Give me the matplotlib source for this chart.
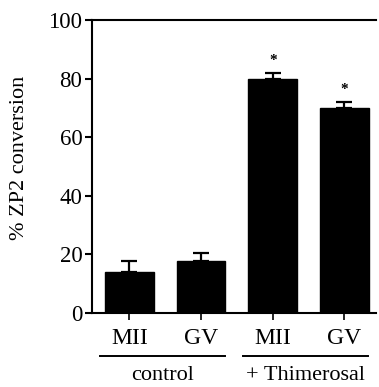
import matplotlib
matplotlib.use("Agg")
import matplotlib.pyplot as plt
from matplotlib.transforms import blended_transform_factory

categories = ["MII", "GV", "MII", "GV"]
values = [14.0, 17.7, 80.0, 70.0]
errors = [3.6, 2.9, 2.0, 2.0]
significant = [False, False, True, True]
groups = [("control", 0, 1), ("+ Thimerosal", 2, 3)]
yticks = [0, 20, 40, 60, 80, 100]

plt.rcParams["font.family"] = ["Liberation Serif", "DejaVu Serif"]

fig = plt.figure(figsize=(3.79, 3.87), dpi=100)
ax = fig.add_axes([0.2427, 0.1912, 0.7493, 0.7571])

x = list(range(len(values)))
ax.bar(x, values, width=0.68, color="black", edgecolor="black", zorder=2)
ax.errorbar(x, values, yerr=[[0] * len(errors), errors], fmt="none",
            ecolor="black", elinewidth=1.6, capsize=6, capthick=1.6, zorder=3)

for xi, v, e, s in zip(x, values, errors, significant):
    if s:
        ax.annotate("*", (xi, v + e), xytext=(0, 4), textcoords="offset points",
                    ha="center", va="bottom", fontsize=11, fontweight="bold")

ax.set_xlim(-0.523, 3.44)
ax.set_ylim(0, 100)
ax.set_yticks(yticks)
ax.set_xticks(x)
ax.set_xticklabels(categories, fontsize=17)
ax.tick_params(axis="y", labelsize=16.5, length=5, width=1.5, direction="out", pad=2)
ax.tick_params(axis="x", length=5, width=1.2, direction="out", pad=6)
ax.set_ylabel("% ZP2 conversion", fontsize=16)
ax.yaxis.set_label_coords(-0.222, 0.53)

for side in ("left", "top", "bottom"):
    ax.spines[side].set_linewidth(1.5)
ax.spines["right"].set_visible(False)

trans = blended_transform_factory(ax.transData, ax.transAxes)
for label, i0, i1 in groups:
    x0, x1 = i0 - 0.41, i1 + 0.33
    ax.plot([x0, x1], [-0.147, -0.147], color="black", lw=1.4,
            transform=trans, clip_on=False)
    ax.text((x0 + x1) / 2, -0.212, label, transform=trans, ha="center",
            va="center", fontsize=16)

fig.savefig("out.png", dpi=100)
